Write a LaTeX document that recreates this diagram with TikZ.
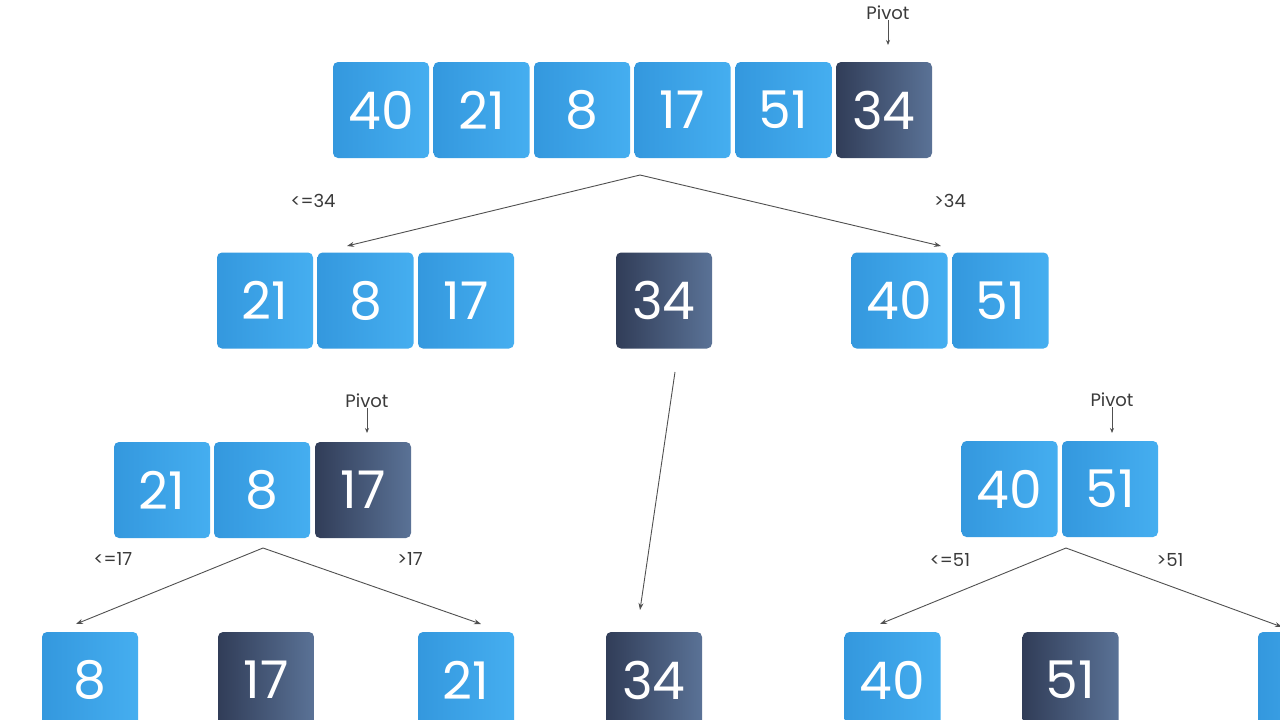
\documentclass[tikz,border=0pt]{standalone}
\usepackage{fontspec}
\setmainfont{Poppins}
\usetikzlibrary{arrows.meta}
\definecolor{bluel}{HTML}{3498DE}
\definecolor{bluer}{HTML}{45AEF0}
\definecolor{darkl}{HTML}{313D58}
\definecolor{darkr}{HTML}{5A7296}
\definecolor{linec}{HTML}{505050}
\definecolor{labc}{HTML}{3A3A3A}
\tikzset{
  cell/.style={rectangle, rounded corners=5pt, minimum width=96pt, minimum height=96pt,
    inner sep=0pt, text=white, font=\fontsize{52}{52}\selectfont},
  bcell/.style={cell, left color=bluel, right color=bluer},
  dcell/.style={cell, left color=darkl, right color=darkr},
  lab/.style={text=labc, font=\fontsize{18}{18}\selectfont, inner sep=0pt},
  conn/.style={draw=linec, line width=0.9pt, -{Stealth[length=7pt,width=5pt]}},
}
\begin{document}
\begin{tikzpicture}[x=1pt,y=-1pt]
\useasboundingbox (0,0) rectangle (1280,720);
\fill[white] (0,0) rectangle (1280,720);
\clip (0,0) rectangle (1280,720);
% row 1
\node[bcell] (a1) at (381,110) {40};
\node[bcell] (a2) at (481.5,110) {21};
\node[bcell] (a3) at (582,110) {8};
\node[bcell] (a4) at (682.5,110) {17};
\node[bcell] (a5) at (783.5,110) {51};
\node[dcell] (a6) at (884,110) {34};
\node[lab] (p1) at (888,13) {Pivot};
\coordinate (p1t) at (888,45);
\draw[conn,-{Stealth[length=5pt,width=4pt]}] (p1) -- (p1t);
% row 2
\node[bcell] (b1) at (265,300.5) {21};
\node[bcell] (b2) at (365.5,300.5) {8};
\node[bcell] (b3) at (466,300.5) {17};
\node[dcell] (b4) at (664,300.5) {34};
\node[bcell] (b5) at (899.5,300.5) {40};
\node[bcell] (b6) at (1000.5,300.5) {51};
\coordinate (s1) at (640,175);
\coordinate (e1l) at (347,246);
\coordinate (e1r) at (941,246);
\draw[conn] (s1) -- (e1l);
\draw[conn] (s1) -- (e1r);
\node[lab] (l1) at (313,201) {<=34};
\node[lab] (r1) at (950,201) {>34};
% row 3
\node[bcell] (c1) at (162,490) {21};
\node[bcell] (c2) at (262,490) {8};
\node[dcell] (c3) at (363,490) {17};
\node[bcell] (c4) at (1009.5,489) {40};
\node[bcell] (c5) at (1110,489) {51};
\node[lab] (p2) at (367,401) {Pivot};
\coordinate (p2t) at (367,433);
\draw[conn,-{Stealth[length=5pt,width=4pt]}] (p2) -- (p2t);
\node[lab] (p3) at (1112,400) {Pivot};
\coordinate (p3t) at (1112,433);
\draw[conn,-{Stealth[length=5pt,width=4pt]}] (p3) -- (p3t);
% 34 down arrow
\coordinate (m1) at (675,372);
\coordinate (m2) at (640,610);
\draw[conn] (m1) -- (m2);
% row 3 splits
\coordinate (s2) at (263,548);
\coordinate (e2l) at (76,624);
\coordinate (e2r) at (481,624);
\draw[conn] (s2) -- (e2l);
\draw[conn] (s2) -- (e2r);
\node[lab] (l2) at (113,559) {<=17};
\node[lab] (r2) at (410,559) {>17};
\coordinate (s3) at (1066,548);
\coordinate (e3l) at (880,624);
\coordinate (e3r) at (1282,627);
\draw[conn] (s3) -- (e3l);
\draw[conn] (s3) -- (e3r);
\node[lab] (l3) at (950,560) {<=51};
\node[lab] (r3) at (1170,560) {>51};
% row 4
\node[bcell] (d1) at (90,680) {8};
\node[dcell] (d2) at (266,680) {17};
\node[bcell] (d3) at (466,680) {21};
\node[dcell] (d4) at (654,680) {34};
\node[bcell] (d5) at (892.5,680) {40};
\node[dcell] (d6) at (1070.5,680) {51};
\node[bcell] (d7) at (1306,680) {};
\end{tikzpicture}
\end{document}
